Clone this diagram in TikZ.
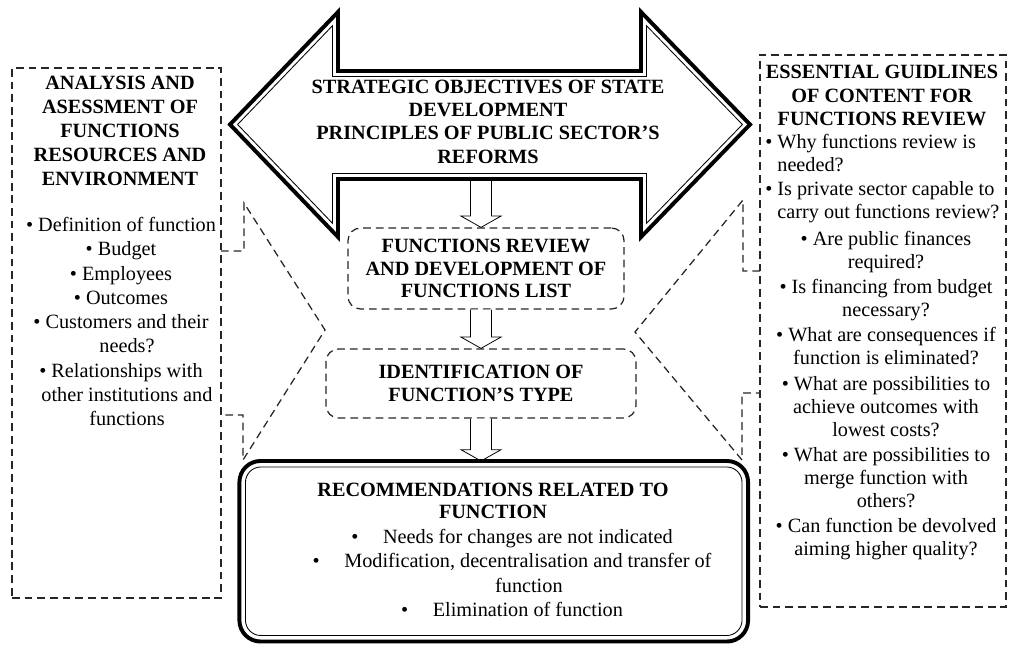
\documentclass[tikz,border=0pt]{standalone}
\usepackage{fontspec}
\setmainfont{Liberation Serif}
\usetikzlibrary{calc}

\tikzset{
  dashbox/.style={draw=black!85, line width=0.9pt, dash pattern=on 5.5pt off 3.5pt},
  midbox/.style={dashbox, rounded corners=9pt, align=center, inner sep=0pt,
    font=\bfseries\fontsize{14.4}{16}\selectfont},
  txt/.style={inner sep=0pt, align=center, font=\fontsize{14.4}{16.4}\selectfont},
  ttl/.style={inner sep=0pt, align=center, font=\bfseries\fontsize{14.4}{16.6}\selectfont},
  heavyline/.style={line width=2.8pt},
  thinline/.style={line width=0.6pt},
  hollowarrow/.style={draw, line width=0.55pt, fill=white},
}

\begin{document}
\begin{tikzpicture}[x=0.025cm, y=-0.025cm]
\useasboundingbox (0,0) rectangle (1009,645);

% side boxes
\node[dashbox, inner sep=0pt, outer sep=0pt, minimum width=5.225cm, minimum height=13.25cm] (lbox) at (116.5,333) {};
\node[dashbox, inner sep=0pt, outer sep=0pt, minimum width=6.15cm, minimum height=13.8cm] (rbox) at (883,331) {};

% callouts
\draw[dashbox] (221,251) -- (244,251) -- (244,203) -- (325,330) -- (243,460) -- (243,415) -- (221,415);
\draw[dashbox] (760,271) -- (743,271) -- (743,200) -- (635,332) -- (742,460) -- (742,393) -- (760,393);

% middle steps
\node[midbox, minimum width=6.9cm, minimum height=2.025cm] (review) at (486,268.5) {FUNCTIONS REVIEW\\AND DEVELOPMENT OF\\FUNCTIONS LIST};
\node[midbox, minimum width=7.75cm, minimum height=1.725cm] (ident) at (481,383.5) {IDENTIFICATION OF\\FUNCTION’S TYPE};

% result box (frame drawn later)
\node[outer sep=0pt, minimum width=12.7125cm, minimum height=4.5125cm] (rec) at (493.75,551.25) {};

\coordinate (shaft) at (481.5,179);

% hollow arrows
\foreach \a/\b in {shaft/review, review.south/ident, ident.south/rec}
  \draw[hollowarrow] let \p1=(\a), \p2=(\b.north), \p3=(ident.center) in
    (\x3-7.5pt,\y1) -- (\x3-7.5pt,\y2+8pt) -- (\x3-14.2pt,\y2+8pt) -- (\x3,\y2)
    -- (\x3+14.2pt,\y2+8pt) -- (\x3+7.5pt,\y2+8pt) -- (\x3+7.5pt,\y1);

% big double arrow
\draw[heavyline] (230,124.5) -- (338,12) -- (338,71) -- (641,71) -- (641,12) -- (750,124.5)
  -- (641,237) -- (641,179) -- (338,179) -- (338,237) -- cycle;
\draw[thinline] (237.6,124.5) -- (332.5,25.7) -- (332.5,76.5) -- (646.5,76.5) -- (646.5,25.7) -- (742.4,124.5)
  -- (646.5,223.3) -- (646.5,173.5) -- (332.5,173.5) -- (332.5,223.3) -- cycle;

\draw[heavyline, rounded corners=15pt] (rec.north west) rectangle (rec.south east);
\draw[thinline, rounded corners=11pt] ([shift={(6,6)}]rec.north west) rectangle ([shift={(-6,-6)}]rec.south east);

% texts
\node[ttl] (goals) at (488,121.5) {STRATEGIC OBJECTIVES OF STATE\\DEVELOPMENT\\PRINCIPLES OF PUBLIC SECTOR’S\\REFORMS};

\node[ttl, anchor=north, font=\bfseries\fontsize{14.4}{16.9}\selectfont] (ltitle) at (120,76.3)
  {ANALYSIS AND\\ASESSMENT OF\\FUNCTIONS\\RESOURCES AND\\ENVIRONMENT};
\node[txt, anchor=north, font=\fontsize{14.4}{17.25}\selectfont] (llist) at (121,217)
  {\textbullet\ Definition of function\\\textbullet\ Budget\\\textbullet\ Employees\\\textbullet\ Outcomes\\
   \textbullet\ Customers and their\\\hspace*{8.5pt}needs?\\\textbullet\ Relationships with\\
   \hspace*{8.5pt}other institutions and\\\hspace*{8.5pt}functions};

\node[ttl, anchor=north] (rtitle) at (882,65.3) {ESSENTIAL GUIDLINES\\OF CONTENT FOR\\FUNCTIONS REVIEW};
\node[txt, anchor=north west, align=left] (rfirst) at (765,134.2)
  {\textbullet\ Why functions review is\\\hspace*{8.6pt}needed?\\[0.7pt]
   \textbullet\ Is private sector capable to\\\hspace*{8.6pt}carry out functions review?};
\node[txt, anchor=north] (rlist) at (886,231.2)
  {\textbullet\ Are public finances\\required?\\[1.4pt]
   \textbullet\ Is financing from budget\\necessary?\\[1.4pt]
   \textbullet\ What are consequences if\\function is eliminated?\\[1.4pt]
   \textbullet\ What are possibilities to\\achieve outcomes with\\lowest costs?\\[1.4pt]
   \textbullet\ What are possibilities to\\merge function with\\others?\\[1.4pt]
   \textbullet\ Can function be devolved\\aiming higher quality?};

\node[ttl, font=\bfseries\fontsize{14.4}{15.6}\selectfont] (btitle) at (493,501) {RECOMMENDATIONS RELATED TO\\FUNCTION};
\node[txt, anchor=north, font=\fontsize{14.4}{17.2}\selectfont] (blist) at (512,529.2)
  {\textbullet\hspace{17.5pt}Needs for changes are not indicated\\
   \textbullet\hspace{17.5pt}Modification, decentralisation and transfer of\\
   \hspace*{24pt}function\\
   \textbullet\hspace{17.5pt}Elimination of function};
\end{tikzpicture}
\end{document}
